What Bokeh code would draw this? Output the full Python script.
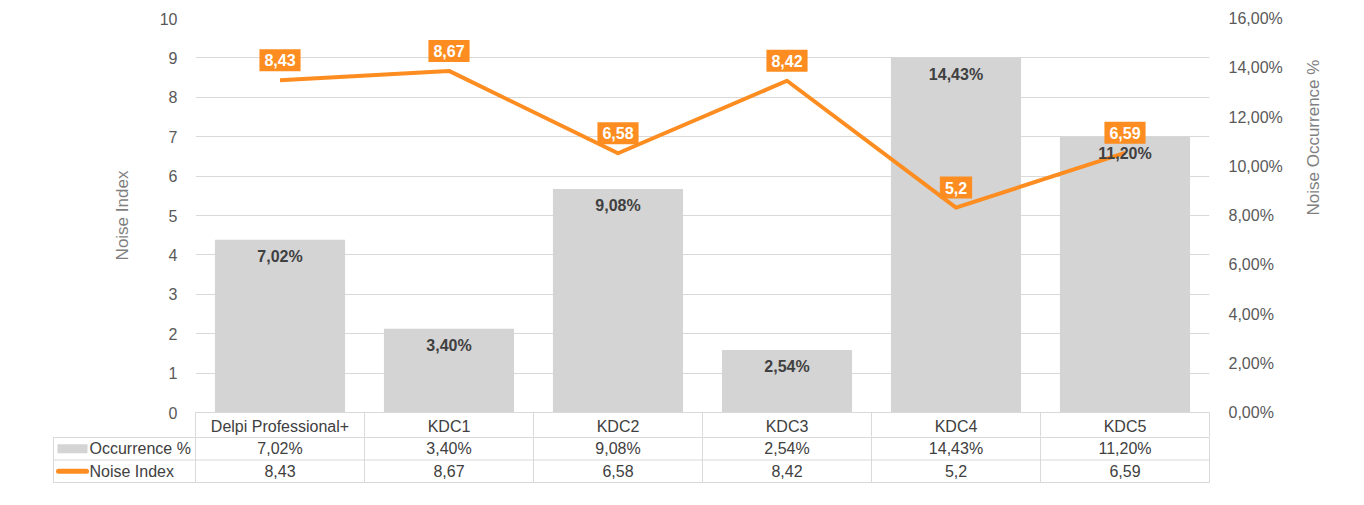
import math
from bokeh.plotting import figure
from bokeh.models import (Range1d, LinearAxis, FixedTicker, ColumnDataSource)
from bokeh.layouts import column
from bokeh.embed import file_html
from bokeh.resources import INLINE
from bokeh.core.properties import value

# ---- data ----
categories = ["Delpi Professional+", "KDC1", "KDC2", "KDC3", "KDC4", "KDC5"]
occurrence = [7.02, 3.40, 9.08, 2.54, 14.43, 11.20]
noise_index = [8.43, 8.67, 6.58, 8.42, 5.2, 6.59]
left_ticks = list(range(0, 11))
right_ticks = list(range(0, 17, 2))
series_names = ["Occurrence %", "Noise Index"]
left_title = "Noise Index"
right_title = "Noise Occurrence %"

FONT = "Liberation Sans"
ORANGE = "#FD8D20"
BAR = "#D4D4D4"
GRID = "#D9D9D9"
TXT = "#404040"
TICK = "#595959"
TITLE = "#7F7F7F"

n = len(categories)
centers = [i + 0.5 for i in range(n)]
bounds = list(range(n + 1))
occ_lbl = [f"{v:.2f}".replace(".", ",") + "%" for v in occurrence]
noise_lbl = [str(v).replace(".", ",") for v in noise_index]

src = ColumnDataSource(dict(x=centers, occ=occurrence, noise=noise_index,
                            occ_lbl=occ_lbl, noise_lbl=noise_lbl))

# ---- main chart ----
p = figure(frame_width=1014, frame_height=394, x_range=Range1d(0, n), y_range=Range1d(0, 10),
           output_backend="svg", toolbar_location=None, frame_align=False,
           min_border_left=195, min_border_right=147, min_border_top=18, min_border_bottom=24)
p.extra_y_ranges = {"pct": Range1d(0, 16)}
p.outline_line_color = None
p.xgrid.visible = False
p.ygrid.ticker = FixedTicker(ticks=left_ticks)
p.ygrid.grid_line_color = GRID

ya = p.yaxis[0]
ya.ticker = FixedTicker(ticks=left_ticks)
ya.axis_line_color = None
ya.major_tick_line_color = None
ya.minor_tick_line_color = None
ya.major_label_standoff = 12
ya.major_label_text_font = FONT
ya.major_label_text_font_size = "16px"
ya.major_label_text_color = TICK
ya.axis_label = left_title
ya.axis_label_text_font = FONT
ya.axis_label_text_font_size = "17px"
ya.axis_label_text_font_style = "normal"
ya.axis_label_text_color = TITLE
ya.axis_label_standoff = 25

ra = LinearAxis(y_range_name="pct", ticker=FixedTicker(ticks=right_ticks),
                major_label_overrides={t: f"{t:.2f}".replace(".", ",") + "%" for t in right_ticks})
ra.axis_line_color = None
ra.major_tick_line_color = None
ra.minor_tick_line_color = None
ra.major_label_standoff = 13
ra.major_label_text_font = FONT
ra.major_label_text_font_size = "16px"
ra.major_label_text_color = TICK
ra.axis_label = right_title
ra.axis_label_text_font = FONT
ra.axis_label_text_font_size = "17px"
ra.axis_label_text_font_style = "normal"
ra.axis_label_text_color = TITLE
ra.axis_label_standoff = 28
try:
    ra.axis_label_orientation = math.pi / 2
    ra.axis_label_text_align = "center"
except Exception:
    pass
p.add_layout(ra, "right")

xa = p.xaxis[0]
xa.ticker = FixedTicker(ticks=centers, minor_ticks=bounds)
xa.major_label_overrides = {c: name for c, name in zip(centers, categories)}
xa.axis_line_color = GRID
xa.major_tick_line_color = None
xa.major_tick_out = 0
xa.major_tick_in = 0
xa.minor_tick_line_color = GRID
xa.minor_tick_out = 24
xa.minor_tick_in = 0
xa.major_label_standoff = -19
xa.major_label_text_font = FONT
xa.major_label_text_font_size = "16px"
xa.major_label_text_color = TXT

p.vbar(x="x", top="occ", width=0.77, source=src, y_range_name="pct",
       fill_color=BAR, line_color=None)
p.line(x="x", y="noise", source=src, line_color=ORANGE, line_width=4, line_join="round")

p.text(x="x", y="occ", text="occ_lbl", source=src, y_range_name="pct",
       y_offset=17, text_align="center", text_baseline="middle",
       text_font=value(FONT), text_font_size="16px", text_font_style="bold",
       text_color=TXT)
p.text(x="x", y="noise", text="noise_lbl", source=src,
       y_offset=-20, text_align="center", text_baseline="middle",
       text_font=value(FONT), text_font_size="16px", text_font_style="bold",
       text_color="white", background_fill_color=ORANGE, padding=5)

# ---- data table below ----
col_px = 169.0
x_start = -142.0 / col_px
t = figure(frame_width=1156, frame_height=45, x_range=Range1d(x_start, n), y_range=Range1d(0, 2),
           output_backend="svg", toolbar_location=None, frame_align=False,
           min_border_left=53, min_border_right=147, min_border_top=0, min_border_bottom=6)
t.axis.visible = False
t.grid.visible = False
t.outline_line_color = GRID
t.segment(x0=bounds[:-1], y0=[0] * n, x1=bounds[:-1], y1=[2] * n, line_color=GRID, line_width=1)
t.segment(x0=[x_start], y0=[1], x1=[n], y1=[1], line_color=GRID, line_width=1)

row_y = [1.5, 0.5]
for vals, yy in ((occ_lbl, row_y[0]), (noise_lbl, row_y[1])):
    t.text(x=centers, y=[yy] * n, text=vals, text_align="center", text_baseline="middle",
           text_font=value(FONT), text_font_size="16px", text_color=TXT)

def lx(px):
    return x_start + px / col_px

t.rect(x=[lx(19)], y=[row_y[0]], width=30, height=9, width_units="screen", height_units="screen",
       fill_color=BAR, line_color=None)
t.segment(x0=[lx(5)], y0=[row_y[1]], x1=[lx(33)], y1=[row_y[1]], line_color=ORANGE,
          line_width=5, line_cap="round")
t.text(x=[lx(36)] * 2, y=row_y, text=series_names, text_align="left", text_baseline="middle",
       text_font=value(FONT), text_font_size="16px", text_color=TXT)

layout = column(p, t, spacing=0)
open("out.html", "w").write(file_html(layout, INLINE))
